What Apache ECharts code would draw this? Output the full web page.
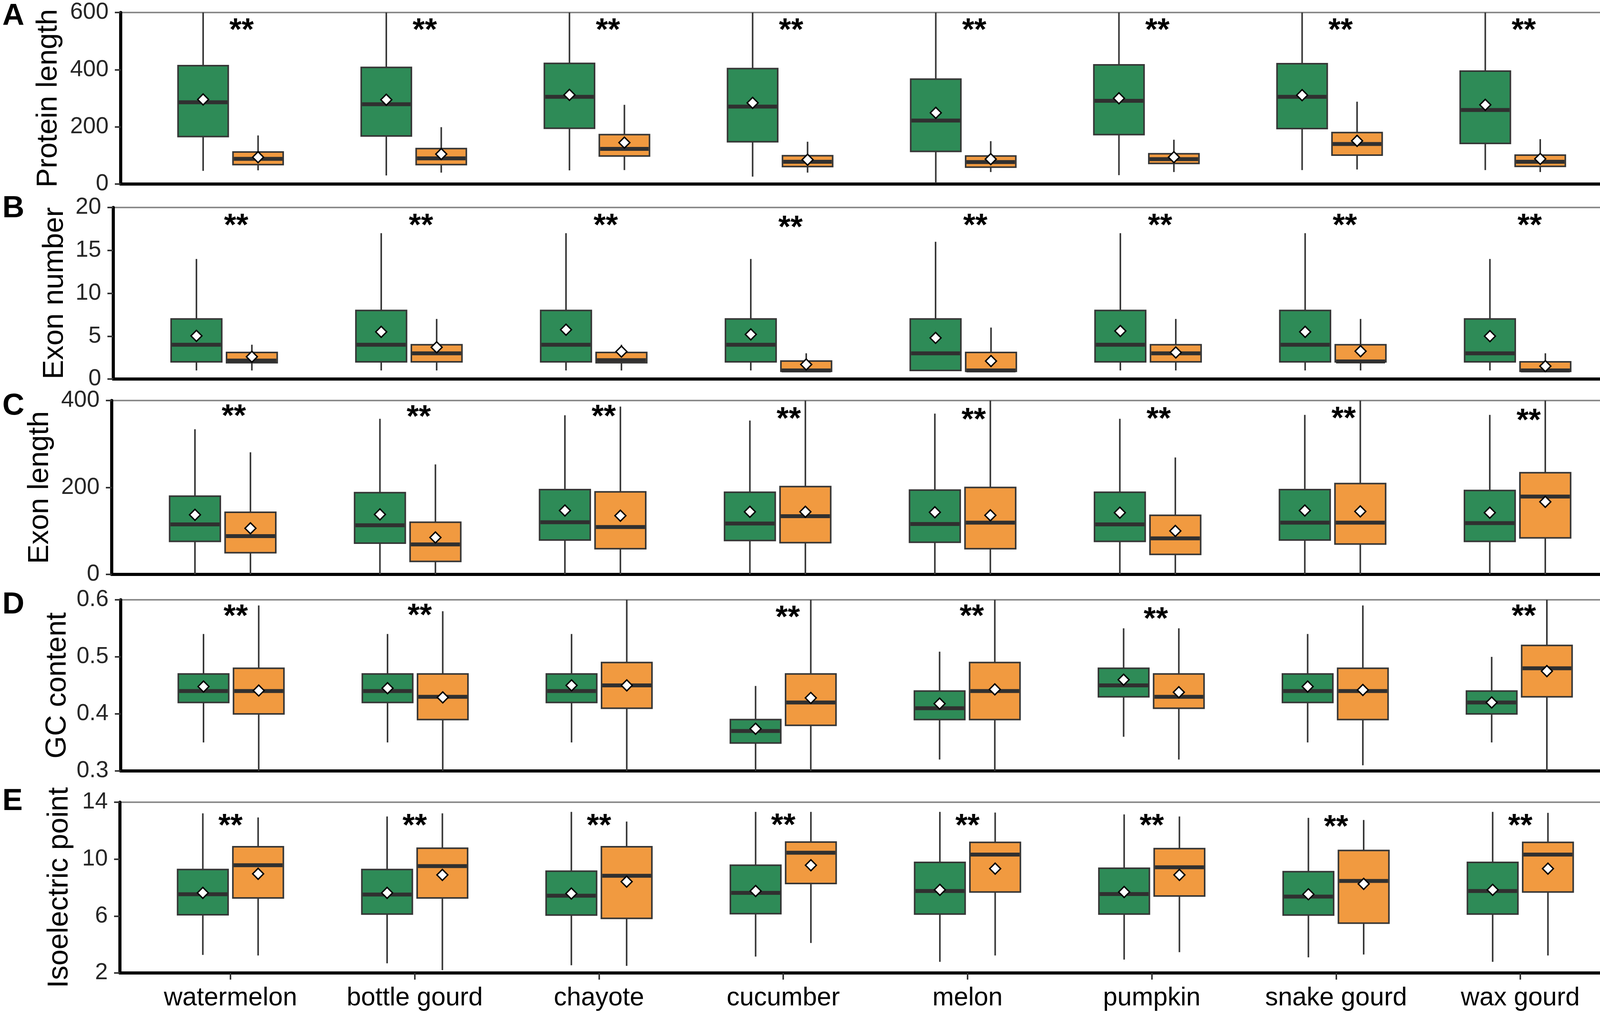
<!DOCTYPE html>
<html>
<head>
<meta charset="utf-8">
<script src="https://cdn.jsdelivr.net/npm/echarts@6/dist/echarts.min.js"></script>
<style>
html,body{margin:0;padding:0;background:#fff;overflow:hidden;}
#chart{width:4550px;height:2595px;}
</style>
</head>
<body>
<div id="chart"></div>
<script>
// ---------- DATA ----------
const categories = ['watermelon','bottle gourd','chayote','cucumber','melon','pumpkin','snake gourd','wax gourd'];
const seriesNames = ['NOGs','OGs'];
// each row: [lower whisker, Q1, median, Q3, upper whisker, mean]
const proteinNOG = [
  [46,166,286,414,600,296],[30,168,279,408,600,295],[48,195,305,422,600,312],[26,148,271,404,600,284],
  [3,114,222,367,600,249],[31,173,291,417,600,300],[49,194,305,421,600,311],[49,142,259,395,600,277]];
const proteinOG = [
  [48,68,88,112,170,94],[40,68,90,124,199,105],[49,98,123,173,277,145],[40,61,78,99,148,85],
  [42,59,77,98,150,87],[42,72,87,106,155,94],[51,101,140,180,288,151],[42,62,78,101,157,88]];
const exonNumNOG = [
  [1,2,4,7,14,5.03],[1,2,4,8,17,5.5],[1,2,4,8,17,5.75],[1,2,4,7,14,5.2],
  [1,1,3,7,16,4.8],[1,2,4,8,17,5.6],[1,2,4,8,17,5.5],[1,2,3,7,14,5.0]];
const exonNumOG = [
  [1,1.9,2.15,3.1,4,2.6],[1,2,3,4,7,3.7],[1,1.9,2.2,3.1,4,3.2],[1,0.9,1,2.1,3,1.7],
  [1,0.9,1,3.1,6,2.1],[1,2,3,4,7,3.1],[1,2,2.05,4,7,3.25],[1,0.9,1,2,3,1.5]];
const exonLenNOG = [
  [0,76,115,180,334,137],[0,72,113,188,358,138],[0,79,120,195,366,147],[0,78,117,189,354,144],
  [0,74,116,194,370,143],[0,76,115,189,358,142],[0,79,119,195,367,147],[0,76,118,193,367,142]];
const exonLenOG = [
  [0,50,88,143,281,106],[0,30,69,120,253,85],[0,59,109,190,386,135],[0,73,134,202,400,144],
  [0,59,119,200,400,136],[0,46,83,136,269,100],[0,70,119,209,400,145],[0,84,179,234,400,167]];
const gcNOG = [
  [0.35,0.42,0.44,0.47,0.54,0.448],[0.35,0.42,0.44,0.47,0.54,0.445],[0.35,0.42,0.44,0.47,0.54,0.45],[0.30,0.349,0.37,0.39,0.449,0.374],
  [0.32,0.39,0.41,0.44,0.509,0.418],[0.36,0.43,0.45,0.48,0.55,0.46],[0.35,0.42,0.44,0.47,0.54,0.448],[0.35,0.40,0.42,0.44,0.50,0.42]];
const gcOG = [
  [0.30,0.40,0.44,0.48,0.59,0.441],[0.30,0.39,0.43,0.47,0.58,0.429],[0.30,0.41,0.45,0.49,0.60,0.45],[0.30,0.38,0.42,0.47,0.60,0.428],
  [0.30,0.39,0.44,0.49,0.60,0.443],[0.32,0.41,0.43,0.47,0.55,0.438],[0.31,0.39,0.44,0.48,0.59,0.442],[0.30,0.43,0.48,0.52,0.60,0.475]];
const pINOG = [
  [3.27,6.09,7.53,9.27,13.22,7.63],[2.68,6.14,7.51,9.27,13.0,7.63],[2.54,6.07,7.43,9.15,13.32,7.58],[3.15,6.17,7.63,9.57,13.32,7.76],
  [2.78,6.14,7.76,9.77,13.32,7.84],[2.94,6.14,7.55,9.36,13.14,7.69],[3.1,6.07,7.37,9.12,12.9,7.53],[2.78,6.14,7.76,9.77,13.32,7.84]];
const pIOG = [
  [3.23,7.27,9.57,10.87,12.93,8.97],[2.2,7.27,9.51,10.77,13.22,8.89],[2.5,5.84,8.83,10.87,12.64,8.42],[4.11,8.29,10.45,11.2,13.32,9.57],
  [3.23,7.69,10.32,11.18,13.27,9.33],[3.46,7.41,9.43,10.74,13.0,8.89],[3.3,5.5,8.47,10.61,12.75,8.26],[3.23,7.69,10.32,11.18,13.25,9.33]];
// significance marks ("**") height per category; null = no mark
const starsA = [559,559,559,559,559,559,559,559];
const starsB = [18.6,18.6,18.6,18.4,18.6,18.6,18.6,18.6];
const starsC = [378,376,377,372,370,372,373,368];
const starsD = [0.582,0.583,null,0.580,0.582,0.577,null,0.582];
const starsE = [12.77,12.77,12.77,12.8,12.77,12.77,12.7,12.77];
// y tick settings
const ticksA = {min:0, max:600, interval:200};
const ticksB = {min:0, max:20, interval:5};
const ticksC = {min:0, max:400, interval:200};
const ticksD = {min:0.3, max:0.6, interval:0.1};
const ticksE = {min:2, max:14, interval:4};

// ---------- STYLE / LAYOUT ----------
const FONT = 'Liberation Sans, Arial, Helvetica, sans-serif';
const GREEN = '#2E8B57', ORANGE = '#F19A40', DARK = '#363636';
const BOX_HALF = 0.137, DODGE = 0.15;
const STAR_SIZE = 80;

const panels = [
  {letter:'A', title:'Protein length', ticks:ticksA, nog:proteinNOG, og:proteinOG, stars:starsA,
   grid:{left:309, top:32, width:3845, height:439}, nameGap:147, starDx:0.06, letterY:3, dec:0},
  {letter:'B', title:'Exon number', ticks:ticksB, nog:exonNumNOG, og:exonNumOG, stars:starsB,
   grid:{left:290, top:531, width:3879, height:439}, nameGap:112, starDx:0.065, letterY:495, dec:0},
  {letter:'C', title:'Exon length', ticks:ticksC, nog:exonLenNOG, og:exonLenOG, stars:starsC,
   grid:{left:286, top:1025, width:3883, height:445}, nameGap:146, starDx:0.06, letterY:1000, dec:0},
  {letter:'D', title:'GC content', ticks:ticksD, nog:gcNOG, og:gcOG, stars:starsD,
   grid:{left:309, top:1535, width:3863, height:438}, nameGap:113, starDx:0.025, letterY:1509, dec:1},
  {letter:'E', title:'Isoelectric point', ticks:ticksE, nog:pINOG, og:pIOG, stars:starsE,
   grid:{left:307, top:2053, width:3868, height:437}, nameGap:117, starDx:0.0, letterY:2012, dec:0}
];

function makeBoxRender(offset, fill) {
  return function (params, api) {
    const x = api.value(0) + offset;
    const lo = api.value(1), q1 = api.value(2), med = api.value(3), q3 = api.value(4), hi = api.value(5), mean = api.value(6);
    const tl = api.coord([x - BOX_HALF, q3]);
    const br = api.coord([x + BOX_HALF, q1]);
    const wt = api.coord([x, hi]);
    const wb = api.coord([x, lo]);
    const ml = api.coord([x - BOX_HALF, med]);
    const mr = api.coord([x + BOX_HALF, med]);
    const mc = api.coord([x, mean]);
    const r = 14;
    return {
      type: 'group',
      children: [
        {type:'line', shape:{x1:wt[0], y1:wt[1], x2:wb[0], y2:wb[1]}, style:{stroke:DARK, lineWidth:4}},
        {type:'rect', shape:{x:tl[0], y:tl[1], width:br[0]-tl[0], height:br[1]-tl[1]}, style:{fill:fill, stroke:DARK, lineWidth:4}},
        {type:'line', shape:{x1:ml[0]+2, y1:ml[1], x2:mr[0]-2, y2:mr[1]}, style:{stroke:'#303030', lineWidth:10}},
        {type:'polygon', shape:{points:[[mc[0], mc[1]-r],[mc[0]+r, mc[1]],[mc[0], mc[1]+r],[mc[0]-r, mc[1]]]},
         style:{fill:'#ffffff', stroke:'#000000', lineWidth:3.5}}
      ]
    };
  };
}
function makeStarRender(dx) {
  return function (params, api) {
    const p = api.coord([api.value(0) + dx, api.value(1)]);
    return {type:'text', x:p[0], y:p[1] + 0.23 * STAR_SIZE,
      style:{text:'**', fontSize:STAR_SIZE, fontWeight:'bold', fontFamily:FONT, fill:'#000',
             align:'center', verticalAlign:'middle', textAlign:'center', textVerticalAlign:'middle'}};
  };
}

const grids = [], xAxes = [], yAxes = [], series = [], graphics = [];
const idx = categories.map((c, i) => i);
panels.forEach((p, i) => {
  grids.push(Object.assign({show:true, borderColor:'#8a8a8a', borderWidth:4, backgroundColor:'#fff'}, p.grid));
  const isLast = i === panels.length - 1;
  xAxes.push({
    gridIndex:i, type:'value', min:-0.6, max:7.6,
    axisLine:{show:true, onZero:false, lineStyle:{color:'#000', width:8}},
    axisTick:{show:isLast, customValues:idx, length:17, lineStyle:{color:'#333', width:4}},
    axisLabel:{show:isLast, customValues:idx, formatter:(v) => categories[Math.round(v)] || '',
               fontSize:66, color:'#000', fontFamily:FONT, margin:32},
    splitLine:{show:false}
  });
  yAxes.push({
    gridIndex:i, type:'value', min:p.ticks.min, max:p.ticks.max, interval:p.ticks.interval,
    name:p.title, nameLocation:'middle', nameGap:p.nameGap,
    nameTextStyle:{fontSize:74, color:'#000', fontFamily:FONT},
    axisLine:{show:true, onZero:false, lineStyle:{color:'#000', width:8}},
    axisTick:{show:true, length:15, lineStyle:{color:'#333', width:4}},
    axisLabel:{fontSize:59, color:'#262626', fontFamily:FONT, margin:31,
               formatter:(v) => (p.dec ? Number(v).toFixed(p.dec) : String(Math.round(v)))},
    splitLine:{show:false}
  });
  series.push({
    type:'custom', name:seriesNames[0], xAxisIndex:i, yAxisIndex:i, clip:true,
    renderItem:makeBoxRender(-DODGE, GREEN),
    encode:{x:0, y:[1,2,3,4,5,6]},
    data:p.nog.map((r, k) => [k].concat(r))
  });
  series.push({
    type:'custom', name:seriesNames[1], xAxisIndex:i, yAxisIndex:i, clip:true,
    renderItem:makeBoxRender(DODGE, ORANGE),
    encode:{x:0, y:[1,2,3,4,5,6]},
    data:p.og.map((r, k) => [k].concat(r))
  });
  series.push({
    type:'custom', name:'sig', xAxisIndex:i, yAxisIndex:i, clip:false, z:5,
    renderItem:makeStarRender(p.starDx),
    encode:{x:0, y:1},
    data:p.stars.map((v, k) => (v == null ? null : [k, v])).filter(Boolean)
  });
  graphics.push({type:'text', x:6, y:p.letterY,
    style:{text:p.letter, font:'bold 78px ' + FONT, fill:'#000', verticalAlign:'top', textVerticalAlign:'top'}});
});

// legend (drawn as graphic keys)
graphics.push({type:'text', x:4256, y:123, style:{text:'type', font:'64px ' + FONT, fill:'#000', verticalAlign:'middle', textVerticalAlign:'middle'}});
[[GREEN, 239, seriesNames[0]], [ORANGE, 338, seriesNames[1]]].forEach(([c, cy, label]) => {
  graphics.push({type:'line', shape:{x1:4305, y1:cy-41, x2:4305, y2:cy+42}, style:{stroke:DARK, lineWidth:4}});
  graphics.push({type:'rect', shape:{x:4265, y:cy-26, width:81, height:52}, style:{fill:c, stroke:DARK, lineWidth:4}});
  graphics.push({type:'line', shape:{x1:4267, y1:cy, x2:4344, y2:cy}, style:{stroke:'#303030', lineWidth:9}});
  graphics.push({type:'text', x:4393, y:cy, style:{text:label, font:'52px ' + FONT, fill:'#000', verticalAlign:'middle', textVerticalAlign:'middle'}});
});

const chart = echarts.init(document.getElementById('chart'), null, {renderer:'canvas'});
chart.setOption({
  backgroundColor:'#ffffff',
  animation:false,
  grid:grids, xAxis:xAxes, yAxis:yAxes, series:series, graphic:graphics
});
</script>
</body>
</html>
